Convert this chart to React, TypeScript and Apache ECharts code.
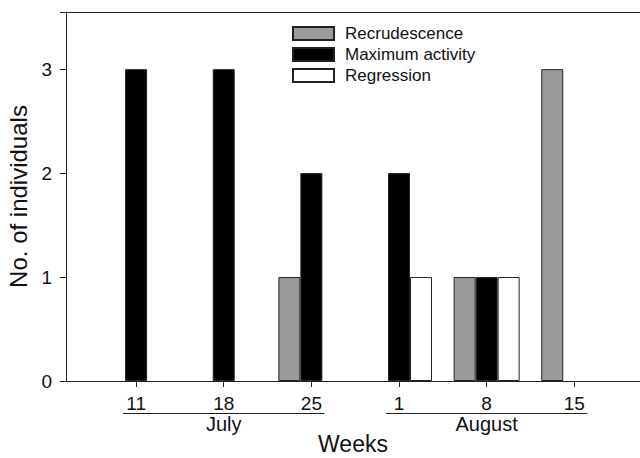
import React, { useEffect, useRef } from "react";
import * as echarts from "echarts";

const weeks = ["11", "18", "25", "1", "8", "15"];
const recrudescence = [0, 0, 1, 0, 1, 3];
const maximumActivity = [3, 3, 2, 2, 1, 0];
const regression = [0, 0, 0, 1, 1, 0];
const seriesNames = ["Recrudescence", "Maximum activity", "Regression"];
const monthNames = ["July", "August"];
const monthStart = [0, 3];
const monthEnd = [2, 5];
const yTicks = [0, 1, 2, 3];

const FONT = "'Liberation Sans', Arial, Helvetica, sans-serif";
const INK = "#222";

function toPairs(vals: number[]) {
  return vals
    .map((v, i) => (v > 0 ? [i, v] : null))
    .filter((p) => p !== null) as number[][];
}

export default function App() {
  const ref = useRef<HTMLDivElement>(null);
  useEffect(() => {
    document.body.style.margin = "0";
    const chart = echarts.init(ref.current!, null, { renderer: "svg" });
    const barStyle = (fill: string) => ({
      color: fill,
      borderColor: INK,
      borderWidth: 1,
    });
    const option: any = {
      animation: false,
      backgroundColor: "#fff",
      grid: {
        left: 66,
        right: 0,
        top: 12,
        bottom: 77,
        containLabel: false,
        outerBoundsMode: "none",
      },
      legend: {
        orient: "vertical",
        left: 292,
        top: 25,
        padding: 0,
        itemWidth: 41,
        itemHeight: 13,
        itemGap: 4,
        icon: "rect",
        textStyle: {
          fontSize: 17,
          fontFamily: FONT,
          color: "#111",
          padding: [0, 0, 0, 6],
        },
        data: seriesNames,
      },
      xAxis: [
        {
          type: "value",
          min: -0.8,
          max: 5.75,
          name: "Weeks",
          nameLocation: "middle",
          nameGap: 55,
          nameTextStyle: { fontSize: 23, lineHeight: 16, fontFamily: FONT, color: "#111" },
          axisLine: { show: true, onZero: false, lineStyle: { color: INK, width: 1 } },
          axisTick: {
            show: true,
            length: 6,
            inside: false,
            customValues: weeks.map((_, i) => i),
            lineStyle: { color: INK },
          },
          axisLabel: {
            show: true,
            margin: 13,
            customValues: weeks.map((_, i) => i),
            formatter: (v: number) => weeks[Math.round(v)] ?? "",
            fontSize: 19,
            fontFamily: FONT,
            color: "#111",
          },
          splitLine: { show: false },
        },
        {
          type: "value",
          position: "top",
          min: -0.8,
          max: 5.75,
          axisLine: { show: true, onZero: false, lineStyle: { color: INK, width: 1 } },
          axisTick: { show: false },
          axisLabel: { show: false },
          splitLine: { show: false },
        },
      ],
      yAxis: {
        type: "value",
        min: 0,
        max: 3.55,
        interval: 1,
        name: "No. of individuals",
        nameLocation: "middle",
        nameGap: 32,
        nameTextStyle: { fontSize: 24, fontFamily: FONT, color: "#111" },
        axisLine: { show: true, onZero: false, lineStyle: { color: INK, width: 1 } },
        axisTick: { show: true, length: 6, inside: false, lineStyle: { color: INK } },
        axisLabel: {
          margin: 14,
          fontSize: 19,
          fontFamily: FONT,
          color: "#111",
          customValues: yTicks,
        },
        splitLine: { show: false },
      },
      series: [
        {
          name: seriesNames[0],
          type: "bar",
          xAxisIndex: 0,
          barWidth: 22,
          barGap: "0%",
          itemStyle: barStyle("#9a9a9a"),
          data: toPairs(recrudescence),
        },
        {
          name: seriesNames[1],
          type: "bar",
          xAxisIndex: 0,
          barWidth: 22,
          barGap: "0%",
          itemStyle: barStyle("#000"),
          data: toPairs(maximumActivity),
        },
        {
          name: seriesNames[2],
          type: "bar",
          xAxisIndex: 0,
          barWidth: 22,
          barGap: "0%",
          itemStyle: barStyle("#fff"),
          data: toPairs(regression),
        },
      ],
    };
    chart.setOption(option);

    const graphics: any[] = [];
    monthNames.forEach((m, k) => {
      const p1 = chart.convertToPixel({ xAxisIndex: 0, yAxisIndex: 0 }, [monthStart[k], 0]) as number[];
      const p2 = chart.convertToPixel({ xAxisIndex: 0, yAxisIndex: 0 }, [monthEnd[k], 0]) as number[];
      const y0 = p1[1];
      graphics.push({
        type: "line",
        shape: { x1: p1[0] - 13, y1: y0 + 32.5, x2: p2[0] + 13, y2: y0 + 32.5 },
        style: { stroke: INK, lineWidth: 1 },
        silent: true,
      });
      graphics.push({
        type: "text",
        x: (p1[0] + p2[0]) / 2,
        y: y0 + 43,
        style: {
          text: m,
          fontSize: 20,
          fontFamily: FONT,
          fill: "#111",
          align: "center",
          verticalAlign: "middle",
        },
        silent: true,
      });
    });
    chart.setOption({ graphic: graphics });

    return () => chart.dispose();
  }, []);
  return (
    <div
      ref={ref}
      style={{ position: "absolute", left: 0, top: 0, width: 640, height: 458 }}
    />
  );
}
